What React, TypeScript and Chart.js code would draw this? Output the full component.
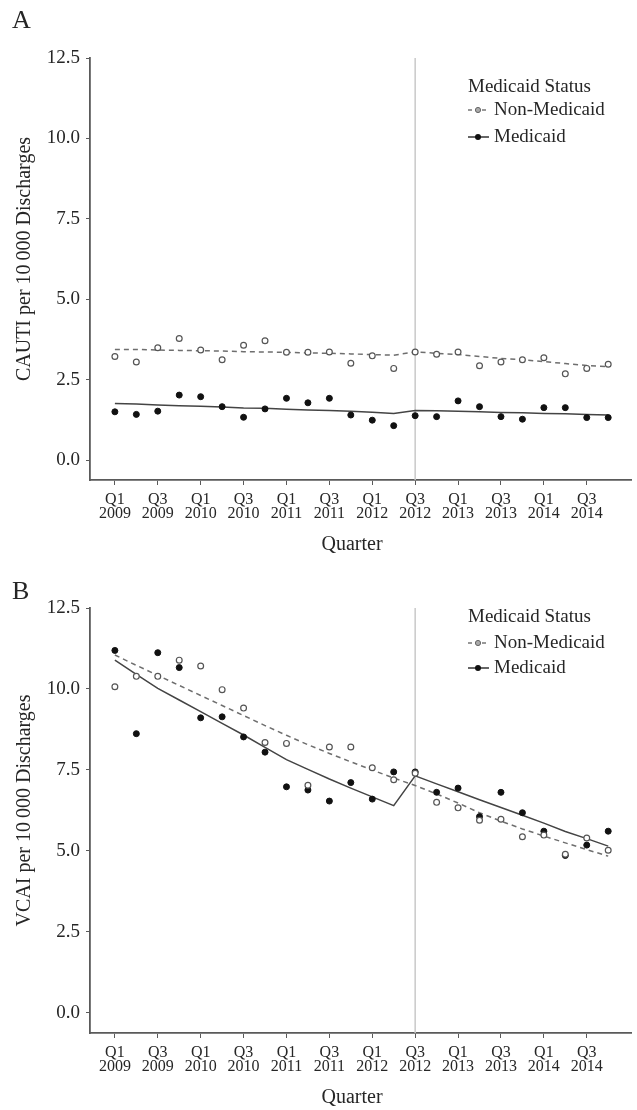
import React, { useEffect, useRef } from "react";
import { Chart, registerables } from "chart.js";

Chart.register(...registerables);

// ---------- data ----------
const quarters = [
  "Q1 2009", "Q2 2009", "Q3 2009", "Q4 2009",
  "Q1 2010", "Q2 2010", "Q3 2010", "Q4 2010",
  "Q1 2011", "Q2 2011", "Q3 2011", "Q4 2011",
  "Q1 2012", "Q2 2012", "Q3 2012", "Q4 2012",
  "Q1 2013", "Q2 2013", "Q3 2013", "Q4 2013",
  "Q1 2014", "Q2 2014", "Q3 2014", "Q4 2014",
];
const tickPositions = [0, 2, 4, 6, 8, 10, 12, 14, 16, 18, 20, 22];
const tickLabels = [
  ["Q1", "2009"], ["Q3", "2009"], ["Q1", "2010"], ["Q3", "2010"],
  ["Q1", "2011"], ["Q3", "2011"], ["Q1", "2012"], ["Q3", "2012"],
  ["Q1", "2013"], ["Q3", "2013"], ["Q1", "2014"], ["Q3", "2014"],
];
const yTicks = [0, 2.5, 5, 7.5, 10, 12.5];
const interventionIndex = 14; // Q3 2012

// Panel A: CAUTI
const cautiNonMedicaid = [3.22, 3.05, 3.49, 3.78, 3.42, 3.12, 3.57, 3.71, 3.35, 3.35, 3.36, 3.01,
  3.24, 2.85, 3.36, 3.29, 3.36, 2.93, 3.05, 3.12, 3.18, 2.68, 2.85, 2.98];
const cautiMedicaid = [1.50, 1.42, 1.52, 2.02, 1.97, 1.66, 1.33, 1.59, 1.92, 1.78, 1.92, 1.40,
  1.24, 1.07, 1.38, 1.35, 1.84, 1.66, 1.35, 1.27, 1.63, 1.63, 1.32, 1.32];
const cautiNonMedicaidFit = [3.44, 3.44, 3.42, 3.41, 3.40, 3.39, 3.37, 3.36, 3.35, 3.33, 3.32, 3.30,
  3.28, 3.26, 3.36, 3.32, 3.28, 3.22, 3.16, 3.12, 3.06, 3.00, 2.94, 2.90];
const cautiMedicaidFit = [1.76, 1.74, 1.71, 1.69, 1.67, 1.65, 1.62, 1.61, 1.58, 1.56, 1.54, 1.52,
  1.49, 1.45, 1.54, 1.53, 1.52, 1.50, 1.48, 1.47, 1.45, 1.44, 1.42, 1.40];

// Panel B: VCAI
const vcaiNonMedicaid = [10.07, 10.39, 10.39, 10.89, 10.71, 9.98, 9.41, 8.35, 8.32, 7.03, 8.21, 8.21,
  7.57, 7.20, 7.40, 6.50, 6.33, 5.95, 5.98, 5.44, 5.49, 4.90, 5.40, 5.02];
const vcaiMedicaid = [11.19, 8.62, 11.12, 10.66, 9.11, 9.14, 8.52, 8.05, 6.98, 6.88, 6.54, 7.11,
  6.60, 7.44, 7.44, 6.81, 6.94, 6.06, 6.81, 6.18, 5.61, 4.86, 5.18, 5.61];
const vcaiNonMedicaidFit = [11.05, 10.73, 10.42, 10.11, 9.80, 9.49, 9.18, 8.87, 8.57, 8.28, 8.01, 7.75,
  7.50, 7.25, 7.02, 6.76, 6.48, 6.18, 5.92, 5.68, 5.46, 5.25, 5.04, 4.84];
const vcaiMedicaidFit = [10.89, 10.45, 10.02, 9.66, 9.30, 8.94, 8.58, 8.20, 7.82, 7.52, 7.22, 6.94,
  6.67, 6.40, 7.32, 7.07, 6.83, 6.58, 6.34, 6.10, 5.86, 5.60, 5.38, 5.15];

// ---------- styling ----------
const FONT = "'Liberation Serif', 'DejaVu Serif', serif";
const TEXT = "#262626";
const AXIS = "#5a5a5a";

type PanelProps = {
  letter: string;
  yTitle: string;
  nonMed: number[];
  med: number[];
  nonMedFit: number[];
  medFit: number[];
  top: number;
  height: number;
  padTop: number;
  xScaleHeight: number;
  legendY: number[];
};

const toXY = (arr: number[]) => arr.map((v, i) => ({ x: i, y: v }));

function Panel(p: PanelProps) {
  const ref = useRef<HTMLCanvasElement | null>(null);
  useEffect(() => {
    if (!ref.current) return;
    const textPlugin = {
      id: "panelText",
      beforeDatasetsDraw(chart: any) {
        const { ctx, chartArea } = chart;
        const x = chart.scales.x.getPixelForValue(interventionIndex);
        ctx.save();
        ctx.strokeStyle = "#c9c9c9";
        ctx.lineWidth = 1.5;
        ctx.beginPath();
        ctx.moveTo(x, chartArea.top);
        ctx.lineTo(x, chartArea.bottom);
        ctx.stroke();
        ctx.restore();
      },
      afterDraw(chart: any) {
        const { ctx, chartArea } = chart;
        ctx.save();
        ctx.fillStyle = TEXT;
        // panel letter
        ctx.font = `26px ${FONT}`;
        ctx.textAlign = "left";
        ctx.textBaseline = "middle";
        ctx.fillText(p.letter, 12, p.legendY[3]);
        // y title
        const yc = (chart.scales.y.getPixelForValue(0) + chart.scales.y.getPixelForValue(12.5)) / 2;
        ctx.save();
        ctx.translate(25, yc);
        ctx.rotate(-Math.PI / 2);
        ctx.font = `20px ${FONT}`;
        ctx.textAlign = "center";
        ctx.textBaseline = "middle";
        ctx.fillText(p.yTitle, 0, 0);
        ctx.restore();
        // x title
        ctx.font = `20px ${FONT}`;
        ctx.textAlign = "center";
        ctx.textBaseline = "middle";
        ctx.fillText("Quarter", 352, chartArea.bottom + 65);
        // legend
        const lx = 468;
        ctx.textAlign = "left";
        ctx.font = `19px ${FONT}`;
        ctx.fillText("Medicaid Status", lx, p.legendY[0]);
        ctx.fillText("Non-Medicaid", lx + 26, p.legendY[1]);
        ctx.fillText("Medicaid", lx + 26, p.legendY[2]);
        // symbols
        ctx.strokeStyle = "#777";
        ctx.lineWidth = 1.4;
        ctx.setLineDash([4, 3]);
        ctx.beginPath();
        ctx.moveTo(lx, p.legendY[1]);
        ctx.lineTo(lx + 21, p.legendY[1]);
        ctx.stroke();
        ctx.setLineDash([]);
        ctx.beginPath();
        ctx.arc(lx + 10, p.legendY[1], 2.6, 0, Math.PI * 2);
        ctx.fillStyle = "#aaa";
        ctx.fill();
        ctx.strokeStyle = "#666";
        ctx.lineWidth = 1;
        ctx.stroke();
        ctx.strokeStyle = "#333";
        ctx.lineWidth = 1.5;
        ctx.beginPath();
        ctx.moveTo(lx, p.legendY[2]);
        ctx.lineTo(lx + 21, p.legendY[2]);
        ctx.stroke();
        ctx.beginPath();
        ctx.arc(lx + 10, p.legendY[2], 3, 0, Math.PI * 2);
        ctx.fillStyle = "#111";
        ctx.fill();
        ctx.restore();
      },
    };

    const chart = new Chart(ref.current, {
      type: "scatter",
      data: {
        labels: quarters,
        datasets: [
          {
            label: "Non-Medicaid",
            data: toXY(p.nonMed),
            pointRadius: 2.9,
            pointBorderWidth: 1.2,
            pointBorderColor: "#555",
            pointBackgroundColor: "#fff",
            showLine: false,
            order: 0,
          },
          {
            label: "Medicaid",
            data: toXY(p.med),
            pointRadius: 3,
            pointBorderWidth: 1,
            pointBorderColor: "#111",
            pointBackgroundColor: "#111",
            showLine: false,
            order: 0,
          },
          {
            label: "Non-Medicaid fit",
            data: toXY(p.nonMedFit),
            showLine: true,
            pointRadius: 0,
            borderColor: "#6e6e6e",
            borderWidth: 1.5,
            borderDash: [5, 4],
            fill: false,
            order: 1,
          },
          {
            label: "Medicaid fit",
            data: toXY(p.medFit),
            showLine: true,
            pointRadius: 0,
            borderColor: "#444",
            borderWidth: 1.5,
            fill: false,
            order: 1,
          },
        ],
      },
      options: {
        responsive: false,
        animation: false,
        layout: { padding: { top: p.padTop, right: 4, left: 0, bottom: 0 } },
        plugins: {
          legend: { display: false },
          tooltip: { enabled: false },
          title: { display: false },
        },
        scales: {
          x: {
            type: "linear",
            min: -1.16,
            max: 24.1,
            afterBuildTicks: (s: any) => {
              s.ticks = tickPositions.map((v) => ({ value: v }));
            },
            afterFit: (s: any) => {
              s.height = p.xScaleHeight;
            },
            ticks: {
              autoSkip: false,
              maxRotation: 0,
              padding: 8,
              color: TEXT,
              font: { family: FONT, size: 16, lineHeight: 0.88 },
              callback: (v: any) => {
                const i = tickPositions.indexOf(Number(v));
                return i >= 0 ? tickLabels[i] : "";
              },
            },
            grid: {
              display: true,
              drawOnChartArea: false,
              drawTicks: true,
              tickLength: 5,
              color: AXIS,
              lineWidth: 1,
            },
            border: { display: true, color: AXIS, width: 1.8 },
          },
          y: {
            type: "linear",
            min: -0.62,
            max: 12.5,
            afterBuildTicks: (s: any) => {
              s.ticks = yTicks.map((v) => ({ value: v }));
            },
            afterFit: (s: any) => {
              s.width = 90;
            },
            ticks: {
              padding: 6,
              color: TEXT,
              font: { family: FONT, size: 19 },
              callback: (v: any) => Number(v).toFixed(1),
            },
            grid: {
              display: true,
              drawOnChartArea: false,
              drawTicks: true,
              tickLength: 4,
              color: AXIS,
              lineWidth: 1,
            },
            border: { display: true, color: AXIS, width: 1.8 },
          },
        },
      },
      plugins: [textPlugin],
    } as any);
    return () => chart.destroy();
  }, []);

  return (
    <canvas
      ref={ref}
      width={637}
      height={p.height}
      style={{ position: "absolute", left: 0, top: p.top, width: 637, height: p.height }}
    />
  );
}

export default function App() {
  return (
    <div style={{ position: "absolute", left: 0, top: 0, width: 637, height: 1110, background: "#fff" }}>
      <Panel
        letter="A"
        yTitle={"CAUTI per 10\u2009000 Discharges"}
        nonMed={cautiNonMedicaid}
        med={cautiMedicaid}
        nonMedFit={cautiNonMedicaidFit}
        medFit={cautiMedicaidFit}
        top={0}
        height={570}
        padTop={58}
        xScaleHeight={90}
        legendY={[87, 110, 137, 21]}
      />
      <Panel
        letter="B"
        yTitle={"VCAI per 10\u2009000 Discharges"}
        nonMed={vcaiNonMedicaid}
        med={vcaiMedicaid}
        nonMedFit={vcaiNonMedicaidFit}
        medFit={vcaiMedicaidFit}
        top={570}
        height={540}
        padTop={38}
        xScaleHeight={77}
        legendY={[47, 73, 98, 22]}
      />
    </div>
  );
}
